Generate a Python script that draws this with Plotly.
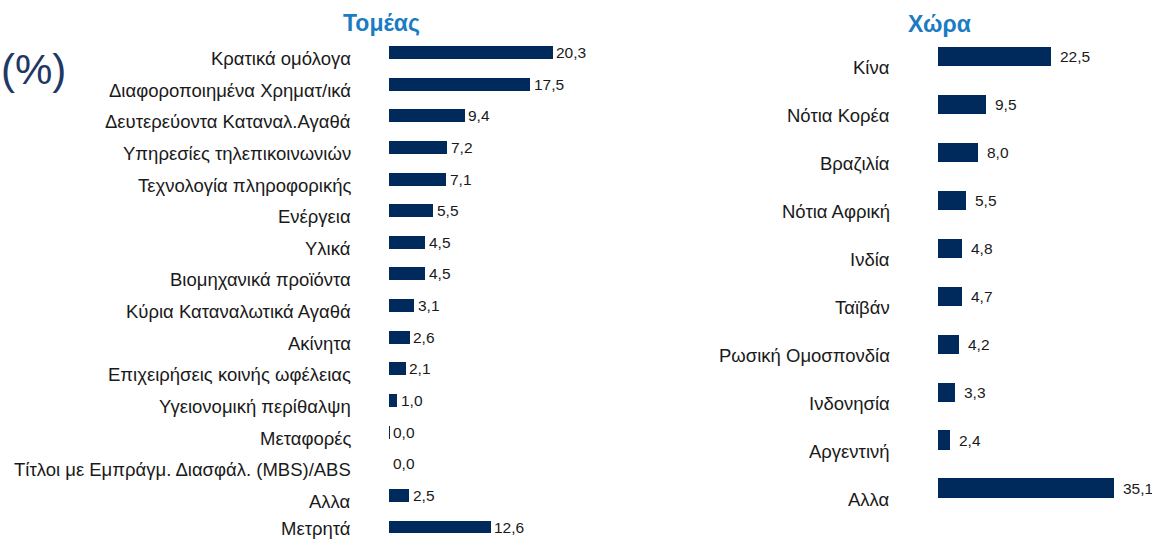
import plotly.graph_objects as go

# ---- data ----
sector_labels = [
    "Κρατικά ομόλογα", "Διαφοροποιημένα Χρηματ/ικά", "Δευτερεύοντα Καταναλ.Αγαθά",
    "Υπηρεσίες τηλεπικοινωνιών", "Τεχνολογία πληροφορικής", "Ενέργεια", "Υλικά",
    "Βιομηχανικά προϊόντα", "Κύρια Καταναλωτικά Αγαθά", "Ακίνητα",
    "Επιχειρήσεις κοινής ωφέλειας", "Υγειονομική περίθαλψη", "Μεταφορές",
    "Τίτλοι με Εμπράγμ. Διασφάλ. (MBS)/ABS", "Αλλα", "Μετρητά",
]
sector_values = [20.3, 17.5, 9.4, 7.2, 7.1, 5.5, 4.5, 4.5, 3.1, 2.6, 2.1, 1.0, 0.04, 0.0, 2.5, 12.6]

country_labels = [
    "Κίνα", "Νότια Κορέα", "Βραζιλία", "Νότια Αφρική", "Ινδία", "Ταϊβάν",
    "Ρωσική Ομοσπονδία", "Ινδονησία", "Αργεντινή", "Αλλα",
]
country_values = [22.5, 9.5, 8.0, 5.5, 4.8, 4.7, 4.2, 3.3, 2.4, 35.1]

titles = ["Τομέας", "Χώρα"]
unit_text = "(%)"

# ---- style ----
W, H = 1152, 541
BAR = "#002A5C"
TITLE_BLUE = "#1A7CC1"
FONT = "Liberation Sans, Arial, sans-serif"
LABEL_SIZE = 18.5
VALUE_SIZE = 15.5

fig = go.Figure()
fig.add_trace(go.Bar(x=sector_values, y=sector_labels, orientation="h",
                     marker=dict(color=BAR, line=dict(width=0)), width=0.41,
                     xaxis="x", yaxis="y", hoverinfo="x+y"))
fig.add_trace(go.Bar(x=country_values, y=country_labels, orientation="h",
                     marker=dict(color=BAR, line=dict(width=0)), width=0.40,
                     xaxis="x2", yaxis="y2", hoverinfo="x+y"))

# pixel geometry
L0, LSCALE = 388.5, 8.07
R0, RSCALE = 938.0, 5.02
left_end = 700
annotations = []

def fmt(v):
    return f"{v:.1f}".replace(".", ",")

n_sec = len(sector_labels)
for i, (lab, v) in enumerate(zip(sector_labels, sector_values)):
    ys = -6 if i < n_sec - 1 else -1  # keep the bottom label inside the page
    annotations.append(dict(xref="paper", x=353 / W, yref="y", y=lab, text=lab,
                            xanchor="right", yanchor="middle", yshift=ys, showarrow=False,
                            font=dict(family=FONT, size=LABEL_SIZE, color="#1a1a1a")))
    annotations.append(dict(xref="x", x=v, yref="y", y=lab, text=fmt(v),
                            xanchor="left", yanchor="middle", xshift=2, showarrow=False,
                            font=dict(family=FONT, size=VALUE_SIZE, color="#1a1a1a")))

for lab, v in zip(country_labels, country_values):
    annotations.append(dict(xref="paper", x=892 / W, yref="y2", y=lab, text=lab,
                            xanchor="right", yanchor="middle", yshift=-11, showarrow=False,
                            font=dict(family=FONT, size=LABEL_SIZE, color="#1a1a1a")))
    annotations.append(dict(xref="x2", x=v, yref="y2", y=lab, text=fmt(v),
                            xanchor="left", yanchor="middle", xshift=7, showarrow=False,
                            font=dict(family=FONT, size=VALUE_SIZE, color="#1a1a1a")))

annotations.append(dict(xref="paper", yref="paper", x=381 / W, y=1 - 23 / H, text=f"<b>{titles[0]}</b>",
                        xanchor="center", yanchor="middle", showarrow=False,
                        font=dict(family=FONT, size=23, color=TITLE_BLUE)))
annotations.append(dict(xref="paper", yref="paper", x=939 / W, y=1 - 24 / H, text=f"<b>{titles[1]}</b>",
                        xanchor="center", yanchor="middle", showarrow=False,
                        font=dict(family=FONT, size=23, color=TITLE_BLUE)))
annotations.append(dict(xref="paper", yref="paper", x=0, y=1 - 70 / H, text=unit_text,
                        xanchor="left", yanchor="middle", showarrow=False, xshift=-1,
                        font=dict(family=FONT, size=42, color="#1F3864")))

# y ranges (category index units) mapping rows to measured pixel rows
lp = (527 - 52.5) / 15
rp = (488 - 56.5) / 9
ly_range = [15 + (H - 527) / lp, -52.5 / lp]
ry_range = [9 + (H - 488) / rp, -56.5 / rp]

hidden = dict(showgrid=False, zeroline=False, showticklabels=False, showline=False, ticks="")
fig.update_layout(
    width=W, height=H, margin=dict(l=0, r=0, t=0, b=0),
    paper_bgcolor="white", plot_bgcolor="white", showlegend=False,
    bargap=0,
    xaxis=dict(domain=[L0 / W, left_end / W], range=[0, (left_end - L0) / LSCALE], **hidden),
    yaxis=dict(domain=[0, 1], range=ly_range, type="category", **hidden),
    xaxis2=dict(domain=[R0 / W, 1], range=[0, (W - R0) / RSCALE], anchor="y2", **hidden),
    yaxis2=dict(domain=[0, 1], range=ry_range, type="category", anchor="x2", **hidden),
    annotations=annotations,
    font=dict(family=FONT),
)
fig.write_html("out.html")
